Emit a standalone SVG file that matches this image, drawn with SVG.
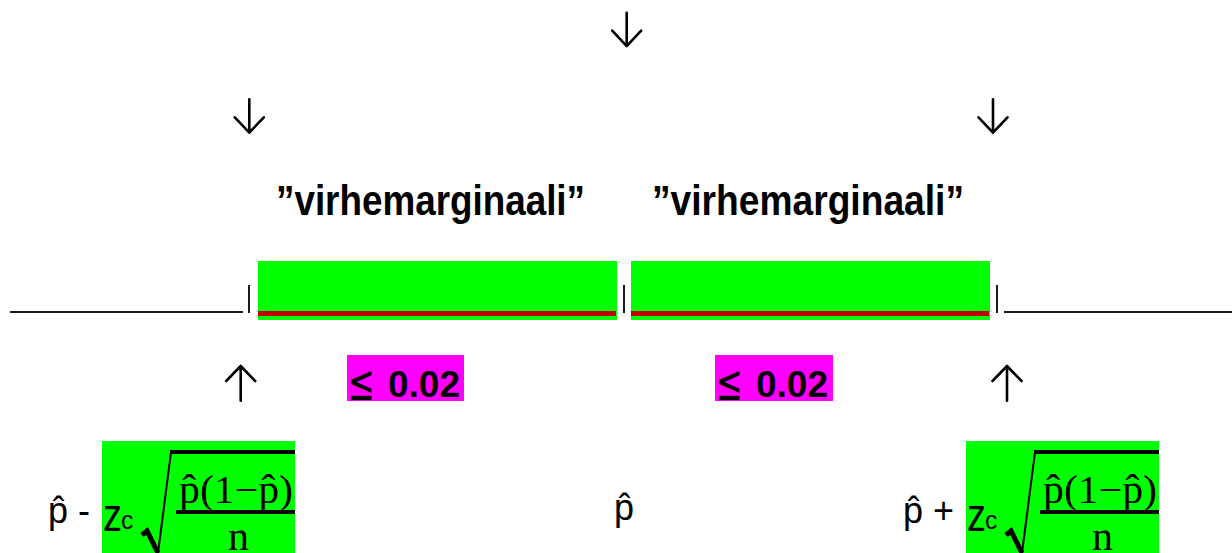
<svg xmlns="http://www.w3.org/2000/svg" width="1232" height="553" viewBox="0 0 1232 553">
<style>
.lbl{font-family:"Liberation Sans",Arial,sans-serif;font-weight:bold;font-size:42px;fill:#000}
.le{font-family:"DejaVu Sans","Liberation Sans",sans-serif;font-size:50px;fill:#000}
.num{font-family:"Liberation Sans",Arial,sans-serif;font-weight:bold;font-size:36px;fill:#000}
.ph{font-family:"Liberation Sans",Arial,sans-serif;font-size:36px;fill:#000}
.z{font-family:"Liberation Sans",Arial,sans-serif;font-size:46px;fill:#000}
.c{font-family:"Liberation Sans",Arial,sans-serif;font-size:25px;fill:#000}
.m{font-family:"Liberation Serif","Times New Roman",serif;font-size:40px;fill:#000}
.n{font-family:"Liberation Serif","Times New Roman",serif;font-size:42px;fill:#000}
.arr{fill:none;stroke:#000;stroke-width:2.6;stroke-linecap:round;stroke-linejoin:round}
.ln{stroke:#1a1a1a;stroke-width:2}
.tick{stroke:#1a1a1a;stroke-width:2}
.g{fill:#00ff00}
.r{fill:#c00000}
.mg{fill:#ff00ff}
.bar{fill:#000}
</style>
<defs>
<path id="down" d="M0,0 V33.4 M-14.5,18 L0,33.4 L14.5,18"/>
<path id="up" d="M0,0 V-34.7 M-14.5,-19.7 L0,-34.7 L14.5,-19.7"/>
<g id="frac">
<rect class="g" x="0" y="0" width="193" height="112"/>
<text class="z" x="1" y="90" textLength="19" lengthAdjust="spacingAndGlyphs">z</text>
<text class="c" x="19" y="88">c</text>
<path d="M40,94 L45,90 L56,112" fill="none" stroke="#000" stroke-width="5" stroke-linejoin="miter"/>
<path d="M56,112 L69,11" fill="none" stroke="#000" stroke-width="2"/>
<rect class="bar" x="68" y="9" width="125" height="4"/>
<text class="m" x="77" y="62" textLength="114" lengthAdjust="spacingAndGlyphs">p̂(1−p̂)</text>
<rect class="bar" x="74" y="69" width="119" height="4"/>
<text class="n" x="126" y="109">n</text>
</g>
</defs>
<g id="connectors">
<use href="#down" class="arr" x="626.7" y="12.7"/>
<use href="#down" class="arr" x="249.3" y="99.3"/>
<use href="#down" class="arr" x="993" y="99.3"/>
<use href="#up" class="arr" x="240.7" y="400.7"/>
<use href="#up" class="arr" x="1007" y="400.7"/>
</g>
<g id="label-left">
<text class="lbl" x="276" y="215" textLength="309" lengthAdjust="spacingAndGlyphs">”virhemarginaali”</text>
</g>
<g id="label-right">
<text class="lbl" x="652" y="215" textLength="312" lengthAdjust="spacingAndGlyphs">”virhemarginaali”</text>
</g>
<g id="number-line">
<line class="ln" x1="10" y1="312" x2="243" y2="312"/>
<line class="ln" x1="1004" y1="312" x2="1232" y2="312"/>
<line class="tick" x1="249" y1="285" x2="249" y2="313"/>
<line class="tick" x1="624" y1="285" x2="624" y2="313"/>
<line class="tick" x1="997" y1="285" x2="997" y2="313"/>
</g>
<g id="bar-left">
<rect class="g" x="258" y="261" width="359" height="59"/>
<rect class="r" x="258" y="311" width="358" height="5"/>
</g>
<g id="bar-right">
<rect class="g" x="631" y="261" width="359" height="59"/>
<rect class="r" x="631" y="311" width="358" height="5"/>
</g>
<g id="bound-left">
<rect class="mg" x="347" y="355" width="117" height="46"/>
<text class="le" x="348" y="400" textLength="27" lengthAdjust="spacingAndGlyphs">≤</text>
<text class="num" x="388" y="397" textLength="72" lengthAdjust="spacingAndGlyphs">0.02</text>
</g>
<g id="bound-right">
<rect class="mg" x="715" y="355" width="118" height="46"/>
<text class="le" x="716" y="400" textLength="27" lengthAdjust="spacingAndGlyphs">≤</text>
<text class="num" x="756" y="397" textLength="72" lengthAdjust="spacingAndGlyphs">0.02</text>
</g>
<g id="lower-limit">
<text class="ph" x="48" y="523">p̂ -</text>
<use href="#frac" x="102" y="441"/>
</g>
<g id="center">
<text class="ph" x="614" y="520">p̂</text>
</g>
<g id="upper-limit">
<text class="ph" x="903" y="523">p̂ +</text>
<use href="#frac" x="966" y="441"/>
</g>
</svg>
